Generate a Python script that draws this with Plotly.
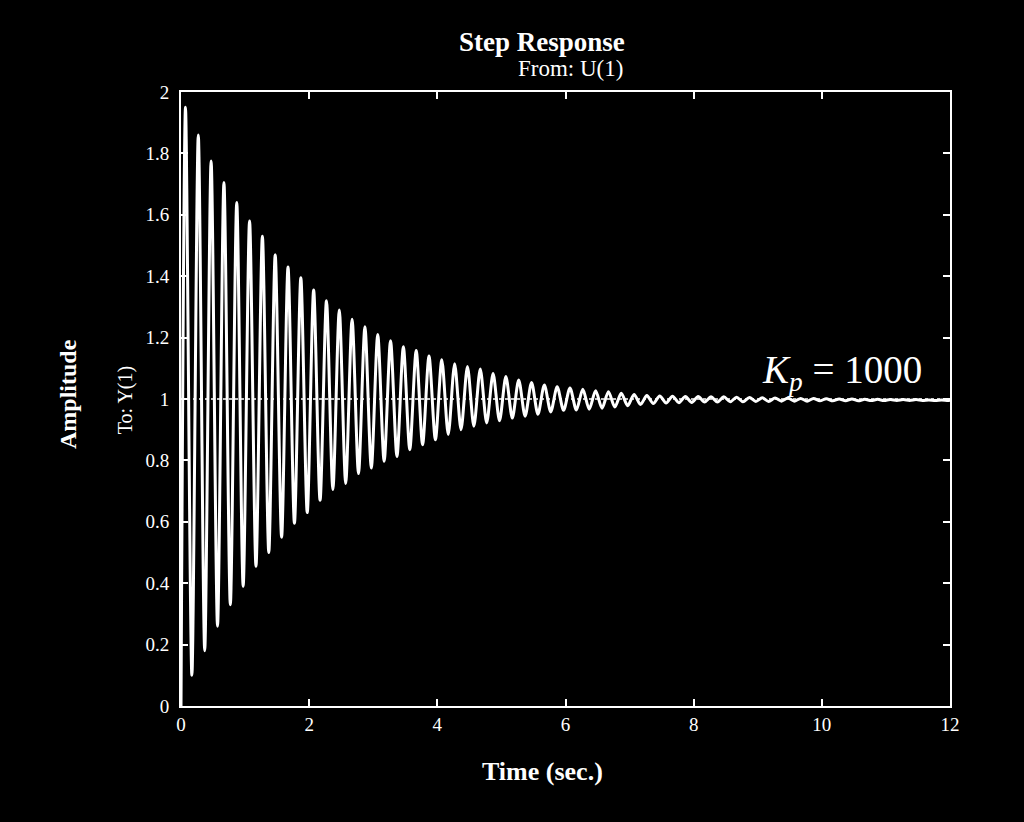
import plotly.graph_objects as go

# ---- data ----
start_t = [0.0]
start_y = [0.0]

peak_t = [0.07, 0.27, 0.47, 0.67, 0.87, 1.07, 1.27, 1.47, 1.67, 1.87,
          2.07, 2.27, 2.47, 2.67, 2.87, 3.07, 3.27, 3.47, 3.67, 3.87,
          4.07, 4.27, 4.47, 4.67, 4.87, 5.07, 5.27, 5.47, 5.67, 5.87,
          6.07, 6.27, 6.47, 6.67, 6.87, 7.07, 7.27, 7.47, 7.67, 7.87,
          8.07, 8.27, 8.47, 8.67, 8.87, 9.07, 9.27, 9.47, 9.67, 9.87,
          10.07, 10.27, 10.47, 10.67, 10.87, 11.07, 11.27, 11.47, 11.67, 11.87]
peak_y = [1.950, 1.860, 1.775, 1.705, 1.640, 1.580, 1.530, 1.470, 1.430, 1.395,
          1.355, 1.320, 1.290, 1.260, 1.235, 1.210, 1.190, 1.170, 1.158, 1.140,
          1.128, 1.115, 1.106, 1.098, 1.083, 1.073, 1.062, 1.054, 1.046, 1.040,
          1.036, 1.032, 1.027, 1.024, 1.019, 1.015, 1.011, 1.010, 1.009, 1.008,
          1.008, 1.007, 1.007, 1.006, 1.005, 1.004, 1.003, 1.003, 1.002, 1.002,
          1.001, 1.000, 1.000, 0.999, 0.999, 0.998, 0.998, 0.998, 0.997, 0.997]

trough_t = [0.17, 0.37, 0.57, 0.77, 0.97, 1.17, 1.37, 1.57, 1.77, 1.97,
            2.17, 2.37, 2.57, 2.77, 2.97, 3.17, 3.37, 3.57, 3.77, 3.97,
            4.17, 4.37, 4.57, 4.77, 4.97, 5.17, 5.37, 5.57, 5.77, 5.97,
            6.17, 6.37, 6.57, 6.77, 6.97, 7.17, 7.37, 7.57, 7.77, 7.97,
            8.17, 8.37, 8.57, 8.77, 8.97, 9.17, 9.37, 9.57, 9.77, 9.97,
            10.17, 10.37, 10.57, 10.77, 10.97, 11.17, 11.37, 11.57, 11.77, 11.97]
trough_y = [0.100, 0.180, 0.260, 0.330, 0.390, 0.455, 0.500, 0.550, 0.595, 0.630,
            0.670, 0.705, 0.725, 0.757, 0.775, 0.797, 0.813, 0.835, 0.851, 0.867,
            0.884, 0.900, 0.911, 0.922, 0.929, 0.938, 0.944, 0.950, 0.958, 0.963,
            0.964, 0.967, 0.970, 0.974, 0.978, 0.982, 0.985, 0.987, 0.988, 0.989,
            0.990, 0.990, 0.991, 0.991, 0.992, 0.992, 0.993, 0.993, 0.993, 0.994,
            0.994, 0.994, 0.994, 0.995, 0.995, 0.995, 0.995, 0.995, 0.995, 0.995]

end_t = [12.0]
end_y = [0.996]

steady_value = 1.0

x_ticks = [0, 2, 4, 6, 8, 10, 12]
x_ticktext = ["0", "2", "4", "6", "8", "10", "12"]
y_ticks = [0, 0.2, 0.4, 0.6, 0.8, 1.0, 1.2, 1.4, 1.6, 1.8, 2.0]
y_ticktext = ["0", "0.2", "0.4", "0.6", "0.8", "1", "1.2", "1.4", "1.6", "1.8", "2"]

# merge extrema in time order
pts = sorted(zip(start_t + peak_t + trough_t + end_t,
                 start_y + peak_y + trough_y + end_y))
t_all = [p[0] for p in pts]
y_all = [p[1] for p in pts]

FONT = "Liberation Serif, Times New Roman, serif"

fig = go.Figure()
fig.add_trace(go.Scatter(x=[x_ticks[0], x_ticks[-1]], y=[steady_value, steady_value],
                         mode="lines", line=dict(color="white", width=1.5, dash="dot"),
                         hoverinfo="skip", showlegend=False))
fig.add_trace(go.Scatter(x=t_all, y=y_all, mode="lines",
                         line=dict(color="white", width=3, shape="spline", smoothing=0.8),
                         showlegend=False))

axis_common = dict(showgrid=False, zeroline=False, showline=True, linecolor="white",
                   linewidth=2, mirror="ticks", ticks="inside", ticklen=7, tickwidth=1.5,
                   tickcolor="white", tickfont=dict(family=FONT, size=19, color="white"))

fig.update_xaxes(range=[0, 12], tickvals=x_ticks, ticktext=x_ticktext, **axis_common)
fig.update_yaxes(range=[0, 2], tickvals=y_ticks, ticktext=y_ticktext,
                 ticklabelstandoff=6, **axis_common)

ann = [
    dict(text="<b>Step Response</b>", x=0.469, y=1.0814, size=27),
    dict(text="From: U(1)", x=0.506, y=1.0375, size=23),
    dict(text="<b>Time (sec.)</b>", x=0.470, y=-0.106, size=26),
]
for a in ann:
    fig.add_annotation(text=a["text"], x=a["x"], y=a["y"], xref="paper", yref="paper",
                       showarrow=False, xanchor="center", yanchor="middle",
                       font=dict(family=FONT, size=a["size"], color="white"))
fig.add_annotation(text="<b>Amplitude</b>", x=-0.147, y=0.508, xref="paper", yref="paper",
                   showarrow=False, textangle=-90, xanchor="center", yanchor="middle",
                   font=dict(family=FONT, size=24, color="white"))
fig.add_annotation(text="To: Y(1)", x=-0.0728, y=0.498, xref="paper", yref="paper",
                   showarrow=False, textangle=-90, xanchor="center", yanchor="middle",
                   font=dict(family=FONT, size=20, color="white"))
fig.add_annotation(text="<i>K</i><sub><i>p</i></sub> = 1000", x=9.04, y=1.085,
                   xref="x", yref="y", showarrow=False, xanchor="left", yanchor="middle",
                   font=dict(family=FONT, size=39, color="white"))

fig.update_layout(width=1024, height=822, paper_bgcolor="black", plot_bgcolor="black",
                  margin=dict(l=181, r=74, t=92, b=116), showlegend=False)

fig.write_html("out.html")
